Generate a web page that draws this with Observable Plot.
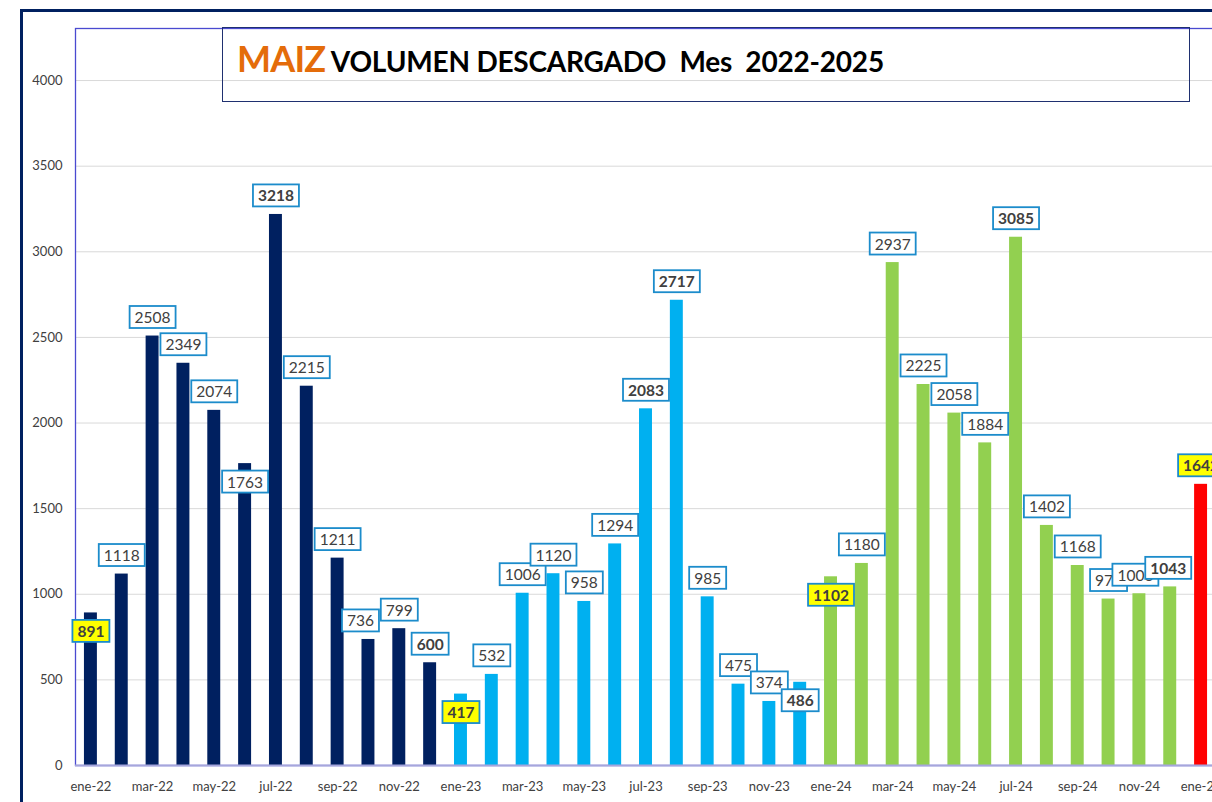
<!DOCTYPE html>
<html>
<head>
<meta charset="utf-8">
<script src="https://cdn.jsdelivr.net/npm/d3@7"></script>
<script src="https://cdn.jsdelivr.net/npm/@observablehq/plot@0.6"></script>
<style>
  html, body { margin: 0; padding: 0; background: #fff; overflow: hidden; width: 1212px; height: 802px; }
  #wrap { position: relative; width: 1212px; height: 802px; overflow: hidden; }
  #frame { position: absolute; left: 20px; top: 9px; width: 1300px; height: 900px; border: 3px solid #002060; box-sizing: border-box; }
  #chart { position: absolute; left: 0; top: 0; width: 1240px; }
  #chart svg { max-width: none !important; }
  #title { position: absolute; left: 222px; top: 27px; width: 968px; height: 75px; border: 1px solid #1f3070; box-sizing: border-box;
           font-family: Lato, "Open Sans", sans-serif; font-weight: bold; color: #000; }
  #title .t { position: absolute; left: 14px; top: 8px; white-space: nowrap; }
  #title .m { color: #E46C0A; font-size: 36px; letter-spacing: -0.8px; }
  #title .r { font-size: 28px; letter-spacing: -0.2px; }
</style>
</head>
<body>
<div id="wrap">
  <div id="frame"></div>
  <div id="chart"></div>
  <div id="title"><span class="t"><span class="m">MAIZ</span><span class="r"> VOLUMEN DESCARGADO&nbsp; Mes&nbsp; 2022-2025</span></span></div>
</div>
<script>
const months = ["ene-22","feb-22","mar-22","abr-22","may-22","jun-22","jul-22","ago-22","sep-22","oct-22","nov-22","dic-22",
                "ene-23","feb-23","mar-23","abr-23","may-23","jun-23","jul-23","ago-23","sep-23","oct-23","nov-23","dic-23",
                "ene-24","feb-24","mar-24","abr-24","may-24","jun-24","jul-24","ago-24","sep-24","oct-24","nov-24","dic-24",
                "ene-25"];
const values = [891,1118,2508,2349,2074,1763,3218,2215,1211,736,799,600,
                417,532,1006,1120,958,1294,2083,2717,985,475,374,486,
                1102,1180,2937,2225,2058,1884,3085,1402,1168,972,1003,1043,
                1642];
const yearKeys = ["22","23","24","25"];
const yearColors = ["#002060","#00B0F0","#92D050","#FF0000"];
const boldMonths = ["ene-22","jul-22","dic-22","ene-23","jul-23","ago-23","dic-23","ene-24","jul-24","dic-24","ene-25"];
const yellowMonths = ["ene-22","ene-23","ene-24","ene-25"];
const insideMonths = ["ene-22","jun-22","ene-23","dic-23","ene-24"];
const yTicks = [0,500,1000,1500,2000,2500,3000,3500,4000];
const xTickLabels = months.filter((d, i) => i % 2 === 0);

const data = months.map((m, i) => ({month: m, value: values[i], year: m.slice(-2)}));

const plot = Plot.plot({
  width: 1240,
  height: 802,
  marginLeft: 75,
  marginRight: 24,
  marginTop: 28,
  marginBottom: 37,
  style: {fontFamily: "Lato, 'Open Sans', sans-serif", fontSize: "13px", background: "transparent", color: "#404040", maxWidth: "none"},
  x: {domain: months, paddingInner: 0.58, paddingOuter: 0.29, label: null},
  y: {domain: [0, 4304], label: null, axis: null},
  color: {domain: yearKeys, range: yearColors},
  marks: [
    Plot.gridY(yTicks, {stroke: "#d9d9d9", strokeOpacity: 1, strokeWidth: 1}),
    Plot.frame({stroke: "#4a4ad0", strokeWidth: 1.3}),
    Plot.text(yTicks, {y: d => d, text: d => String(d), frameAnchor: "left", textAnchor: "end", dx: -13,
                       fontSize: 13, fill: "#404040"}),
    Plot.axisX(xTickLabels, {tickSize: 0, tickPadding: 16, fontSize: 13, fill: "#404040"}),
    Plot.barY(data, {x: "month", y: "value", fill: "year"}),
    Plot.ruleY([0], {stroke: "#a6a6dc", strokeWidth: 2}),
    Plot.text(data, {x: "month", y: "value", text: d => String(d.value), fontSize: 15.5, fill: "#404040",
                     textAnchor: "middle", lineAnchor: "middle"})
  ]
});
document.getElementById("chart").appendChild(plot);

const ns = "http://www.w3.org/2000/svg";
const labelShiftX = {"oct-22": -8, "nov-24": -4, "dic-24": -2};
const groups = plot.querySelectorAll('g[aria-label="text"]');
const texts = groups[groups.length - 1].querySelectorAll("text");
texts.forEach((t, i) => {
  const m = months[i];
  if (boldMonths.includes(m)) t.setAttribute("font-weight", "bold");
  const own = t.getAttribute("transform") || "";
  t.removeAttribute("transform");
  const bb = t.getBBox();
  const g = document.createElementNS(ns, "g");
  const dy = insideMonths.includes(m) ? 19 : -18;
  const dx = labelShiftX[m] || 0;
  g.setAttribute("transform", `translate(${dx},${dy}) ${own}`);
  const r = document.createElementNS(ns, "rect");
  r.setAttribute("x", bb.x - 5);
  r.setAttribute("y", bb.y - 2);
  r.setAttribute("width", bb.width + 10);
  r.setAttribute("height", bb.height + 4);
  r.setAttribute("fill", yellowMonths.includes(m) ? "#FFFF00" : "#ffffff");
  r.setAttribute("stroke", "#1C8CCB");
  r.setAttribute("stroke-width", 1.8);
  t.parentNode.insertBefore(g, t);
  g.appendChild(r);
  g.appendChild(t);
});
</script>
</body>
</html>
